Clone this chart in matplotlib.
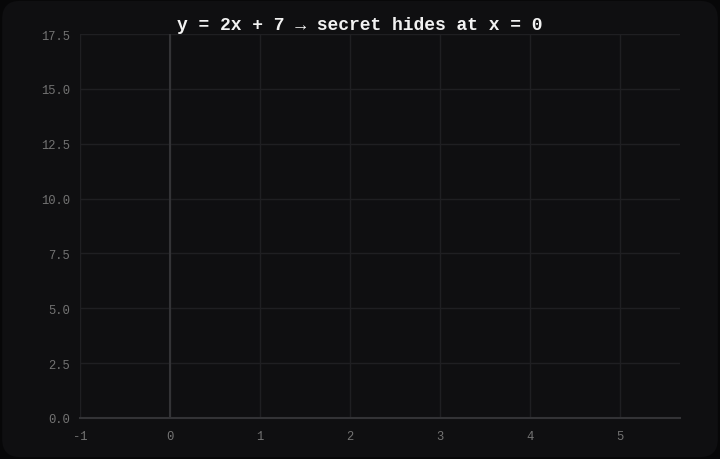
import matplotlib
matplotlib.use("Agg")
import matplotlib.pyplot as plt
from matplotlib.patches import FancyBboxPatch

title = "y = 2x + 7 \u2192 secret hides at x = 0"
x_ticks = [-1, 0, 1, 2, 3, 4, 5]
y_ticks = [0.0, 2.5, 5.0, 7.5, 10.0, 12.5, 15.0, 17.5]
x_range = [-1, 5.667]
y_range = [0, 17.5]
highlight_x = 0

MONO = ["Liberation Mono", "DejaVu Sans Mono"]
OUTER = "#070708"
CARD = "#0f0f11"
GRID = "#1f1f22"
AXIS = "#333336"
TICK = "#737373"

fig = plt.figure(figsize=(7.2, 4.6), dpi=100, facecolor=OUTER)
card = FancyBboxPatch((0.003, 0.004), 0.994, 0.992,
                      boxstyle="round,pad=0,rounding_size=0.025",
                      transform=fig.transFigure, facecolor=CARD,
                      edgecolor="none", zorder=-10, mutation_aspect=720/460)
fig.patches.append(card)

ax = fig.add_axes([80/720, 41/460, 600/720, 384/460])
ax.set_zorder(1)
ax.patch.set_alpha(0)
ax.set_xlim(*x_range)
ax.set_ylim(*y_range)
ax.set_xticks(x_ticks)
ax.set_yticks(y_ticks)
ax.set_xticklabels([str(v) for v in x_ticks])
ax.set_yticklabels([f"{v:.1f}" for v in y_ticks])
for lab in ax.get_xticklabels() + ax.get_yticklabels():
    lab.set_family(MONO)
    lab.set_fontsize(8.7)
    lab.set_color(TICK)
ax.tick_params(axis="y", length=0, pad=7)
ax.tick_params(axis="x", length=0, pad=9)
ax.grid(True, color=GRID, linewidth=1.0)
ax.set_axisbelow(True)
for s in ["top", "right", "left"]:
    ax.spines[s].set_visible(False)
ax.spines["bottom"].set_color(AXIS)
ax.spines["bottom"].set_linewidth(1.5)
ax.axvline(highlight_x, color=AXIS, linewidth=1.5, zorder=1)

t = fig.text(0.5, 1 - 25/460, title, ha="center", va="center",
             family=MONO, fontsize=13, fontweight="bold", color="#f2f2f2")
t.set_zorder(5)

fig.savefig("out.png", dpi=100, facecolor=OUTER)
